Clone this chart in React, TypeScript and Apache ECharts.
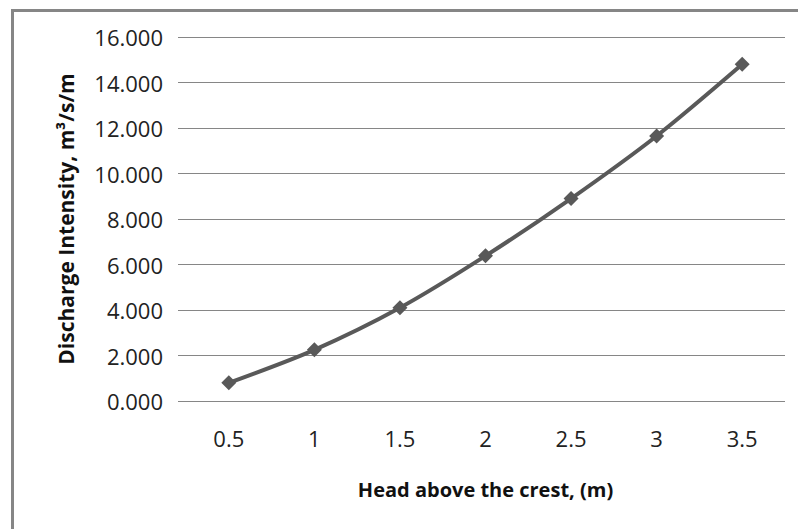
import React, { useEffect, useRef } from "react";
import * as echarts from "echarts";

const categories = ["0.5", "1", "1.5", "2", "2.5", "3", "3.5"];
const discharge = [0.8, 2.25, 4.1, 6.38, 8.9, 11.65, 14.8];
const yMin = 0;
const yMax = 16;
const yStep = 2;

const FONT = "Open Sans";
const GRAY = "#868686";
const LINE = "#595959";

export default function App() {
  const ref = useRef<HTMLDivElement>(null);
  useEffect(() => {
    document.body.style.margin = "0";
    const chart = echarts.init(ref.current!, null, { renderer: "svg" });
    chart.setOption({
      animation: false,
      backgroundColor: "#ffffff",
      textStyle: { fontFamily: FONT },
      graphic: [
        {
          type: "rect",
          shape: { x: 12.5, y: 10.5, width: 900, height: 900 },
          style: { fill: "none", stroke: GRAY, lineWidth: 3 },
          silent: true,
        },
      ],
      grid: [
        { left: 178, right: 13, top: 37, bottom: 128 },
        { left: 186, right: 13, top: 37, bottom: 128 },
      ],
      xAxis: [
        { type: "category", gridIndex: 0, data: categories, show: false },
        {
          type: "category",
          gridIndex: 1,
          data: categories,
          boundaryGap: true,
          axisLine: { show: false },
          axisTick: { show: false },
          axisLabel: { color: "#222", fontSize: 22, fontFamily: FONT, margin: 26 },
          name: "Head above the crest, (m)",
          nameLocation: "middle",
          nameGap: 78,
          nameTextStyle: { color: "#111", fontSize: 20, fontWeight: "bold", fontFamily: FONT },
        },
      ],
      yAxis: [
        {
          type: "value",
          gridIndex: 0,
          min: yMin,
          max: yMax,
          interval: yStep,
          axisLine: { show: false },
          axisTick: { show: false },
          axisLabel: {
            color: "#222",
            fontSize: 22,
            fontFamily: FONT,
            margin: 15,
            formatter: (v: number) => v.toFixed(3),
          },
          splitLine: { show: true, lineStyle: { color: GRAY, width: 1 } },
          name: "Discharge Intensity, m³/s/m",
          nameLocation: "middle",
          nameGap: 102,
          nameTextStyle: { color: "#111", fontSize: 21, fontWeight: "bold", fontFamily: FONT },
        },
        {
          type: "value",
          gridIndex: 1,
          min: yMin,
          max: yMax,
          interval: yStep,
          show: false,
          splitLine: { show: false },
        },
      ],
      series: [
        {
          type: "line",
          xAxisIndex: 1,
          yAxisIndex: 1,
          data: discharge,
          smooth: 0.3,
          symbol: "diamond",
          symbolSize: 15,
          lineStyle: { color: LINE, width: 4 },
          itemStyle: { color: LINE },
        },
      ],
    });
    return () => chart.dispose();
  }, []);
  return <div ref={ref} style={{ width: 798, height: 529 }} />;
}
